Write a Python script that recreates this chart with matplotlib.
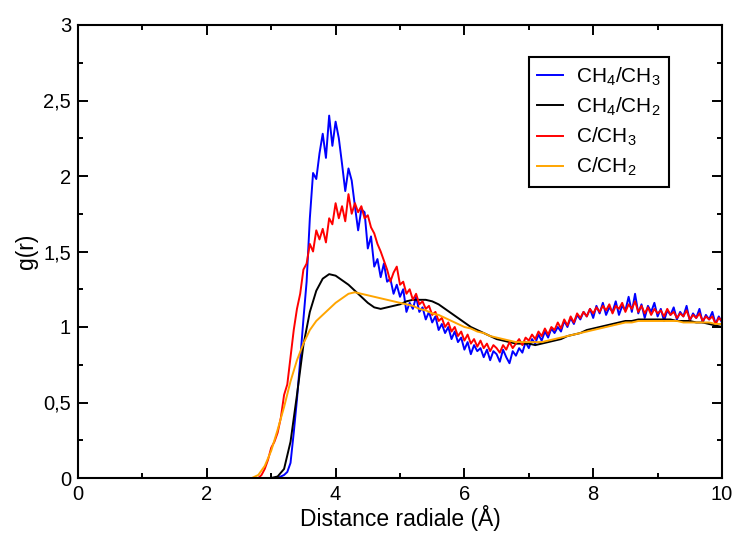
import numpy as np
import matplotlib
matplotlib.use('Agg')
import matplotlib.pyplot as plt

plt.rcParams['font.family'] = ['Liberation Sans', 'DejaVu Sans']
plt.rcParams['mathtext.fontset'] = 'custom'
plt.rcParams['mathtext.rm'] = 'Liberation Sans'
plt.rcParams['mathtext.default'] = 'regular'

# g(r) values
# CH4/CH3 (blue), r = 3.00 .. 10.00 step 0.05
r_blue_start = 3.00
g_ch4_ch3 = [
    0.00, 0.00, 0.00, 0.01, 0.02, 0.04, 0.10, 0.30, 0.52, 0.78,
    1.05, 1.30, 1.72, 2.02, 1.98, 2.15, 2.28, 2.12, 2.40, 2.20,
    2.36, 2.25, 2.08, 1.90, 2.05, 1.97, 1.80, 1.64, 1.78, 1.76,
    1.52, 1.60, 1.40, 1.45, 1.33, 1.42, 1.30, 1.32, 1.22, 1.28,
    1.20, 1.25, 1.10, 1.16, 1.12, 1.20, 1.10, 1.13, 1.05, 1.10,
    1.03, 1.07, 0.98, 1.02, 0.96, 1.00, 0.92, 0.97, 0.90, 0.93,
    0.85, 0.90, 0.82, 0.88, 0.84, 0.86, 0.80, 0.85, 0.78, 0.84,
    0.82, 0.77, 0.85, 0.80, 0.76, 0.84, 0.81, 0.86, 0.83, 0.90,
    0.86, 0.92, 0.89, 0.95, 0.91, 0.97, 0.93, 0.99, 0.96, 1.00,
    0.97, 1.04, 1.00, 1.06, 1.02, 1.08, 1.05, 1.10, 1.07, 1.12,
    1.06, 1.14, 1.09, 1.16, 1.08, 1.13, 1.10, 1.17, 1.08, 1.14,
    1.11, 1.20, 1.10, 1.22, 1.09, 1.15, 1.06, 1.14, 1.10, 1.16,
    1.07, 1.12, 1.04, 1.11, 1.08, 1.13, 1.05, 1.10, 1.07, 1.14,
    1.04, 1.09, 1.06, 1.12, 1.03, 1.08, 1.05, 1.10, 1.02, 1.07,
    1.03,
]

# C/CH3 (red), r = 2.80 .. 10.00 step 0.05
r_red_start = 2.80
g_c_ch3 = [
    0.00, 0.02, 0.06, 0.12, 0.20, 0.24, 0.30, 0.40, 0.55, 0.62,
    0.80, 0.98, 1.12, 1.22, 1.38, 1.42, 1.55, 1.50, 1.64, 1.58,
    1.65, 1.56, 1.72, 1.68, 1.82, 1.72, 1.80, 1.70, 1.88, 1.75,
    1.82, 1.76, 1.80, 1.72, 1.74, 1.66, 1.62, 1.55, 1.50, 1.44,
    1.38, 1.30, 1.36, 1.40, 1.28, 1.30, 1.22, 1.25, 1.18, 1.22,
    1.15, 1.17, 1.12, 1.14, 1.08, 1.10, 1.04, 1.06, 1.00, 1.03,
    0.97, 1.00, 0.94, 0.97, 0.91, 0.95, 0.89, 0.92, 0.87, 0.91,
    0.86, 0.89, 0.84, 0.88, 0.86, 0.83, 0.88, 0.85, 0.90, 0.86,
    0.89, 0.92, 0.88, 0.93, 0.91, 0.95, 0.92, 0.97, 0.94, 0.99,
    0.95, 1.00, 0.98, 1.03, 0.99, 1.05, 1.01, 1.07, 1.03, 1.09,
    1.06, 1.10, 1.07, 1.12, 1.09, 1.13, 1.10, 1.14, 1.11, 1.15,
    1.09, 1.14, 1.12, 1.16, 1.10, 1.15, 1.12, 1.17, 1.10, 1.14,
    1.09, 1.13, 1.08, 1.12, 1.09, 1.11, 1.07, 1.12, 1.08, 1.10,
    1.06, 1.09, 1.07, 1.11, 1.05, 1.08, 1.06, 1.09, 1.04, 1.07,
    1.05, 1.07, 1.02, 1.06, 1.04,
]

# CH4/CH2 (black), r = 3.0 .. 10.0 step 0.1
r_black_start = 3.0
g_ch4_ch2 = [
    0.00, 0.01, 0.06, 0.24, 0.55, 0.88, 1.10, 1.24, 1.32, 1.35,
    1.34, 1.31, 1.28, 1.24, 1.20, 1.16, 1.13, 1.12, 1.13, 1.14,
    1.15, 1.17, 1.18, 1.18, 1.18, 1.17, 1.15, 1.12, 1.09, 1.06,
    1.03, 1.00, 0.98, 0.96, 0.94, 0.92, 0.91, 0.90, 0.89, 0.89,
    0.89, 0.88, 0.89, 0.90, 0.91, 0.92, 0.94, 0.95, 0.96, 0.98,
    0.99, 1.00, 1.01, 1.02, 1.03, 1.04, 1.04, 1.05, 1.05, 1.05,
    1.05, 1.05, 1.05, 1.04, 1.04, 1.04, 1.03, 1.03, 1.02, 1.01,
    1.00,
]

# C/CH2 (orange), r = 2.7 .. 10.0 step 0.1
r_orange_start = 2.7
g_c_ch2 = [
    0.00, 0.02, 0.08, 0.18, 0.32, 0.47, 0.64, 0.78, 0.89, 0.98,
    1.04, 1.08, 1.12, 1.16, 1.19, 1.22, 1.23, 1.22, 1.21, 1.20,
    1.19, 1.18, 1.17, 1.16, 1.15, 1.14, 1.12, 1.11, 1.09, 1.08,
    1.06, 1.04, 1.02, 1.00, 0.99, 0.97, 0.96, 0.94, 0.93, 0.92,
    0.91, 0.90, 0.90, 0.90, 0.90, 0.90, 0.91, 0.92, 0.93, 0.94,
    0.95, 0.96, 0.97, 0.98, 0.99, 1.00, 1.01, 1.02, 1.03, 1.03,
    1.04, 1.04, 1.04, 1.04, 1.04, 1.04, 1.04, 1.03, 1.03, 1.03,
    1.03, 1.03, 1.02, 1.02,
]

labels = [r'CH$_4$/CH$_3$', r'CH$_4$/CH$_2$', r'C/CH$_3$', r'C/CH$_2$']
colors = ['#0000ff', '#000000', '#ff0000', '#ffa500']


# put the curve on its r grid, with the flat zero part from r = 0
def curve(start, step, g):
    r = start + step * np.arange(len(g))
    return np.concatenate([[0.0], r]), np.concatenate([[0.0], g])


series = [
    curve(r_blue_start, 0.05, g_ch4_ch3),
    curve(r_black_start, 0.1, g_ch4_ch2),
    curve(r_red_start, 0.05, g_c_ch3),
    curve(r_orange_start, 0.1, g_c_ch2),
]

fig = plt.figure(figsize=(7.38, 5.36), dpi=100)
ax = fig.add_axes([78 / 738, 58 / 536, 644 / 738, 453 / 536])

for (x, y), c, lab in zip(series, colors, labels):
    ax.plot(x, y, color=c, linewidth=1.4, label=lab)

ax.set_xlim(0, 10)
ax.set_ylim(0, 3)
ax.set_xticks([0, 2, 4, 6, 8, 10])
ax.set_xticks([1, 3, 5, 7, 9], minor=True)
ax.set_yticks([0, 0.5, 1, 1.5, 2, 2.5, 3])
ax.set_yticks([0.25, 0.75, 1.25, 1.75, 2.25, 2.75], minor=True)
ax.set_yticklabels(['0', '0,5', '1', '1,5', '2', '2,5', '3'])

ax.tick_params(which='both', direction='in', top=True, right=True,
               width=1.4, labelsize=14.5)
ax.tick_params(which='major', length=7.5, pad=5)
ax.tick_params(which='minor', length=3.8)
for s in ax.spines.values():
    s.set_linewidth(1.5)

ax.set_xlabel('Distance radiale (Å)', fontsize=16.5, labelpad=1)
ax.set_ylabel('g(r)', fontsize=16.5, labelpad=4)

leg = ax.legend(loc='upper left', bbox_to_anchor=(0.700, 0.929),
                fontsize=15, fancybox=False, edgecolor='black',
                handlelength=1.25, handletextpad=0.6, labelspacing=0.38,
                borderpad=0.4, borderaxespad=0, framealpha=1)
leg.get_frame().set_linewidth(1.5)

fig.savefig('out.png', dpi=100)
